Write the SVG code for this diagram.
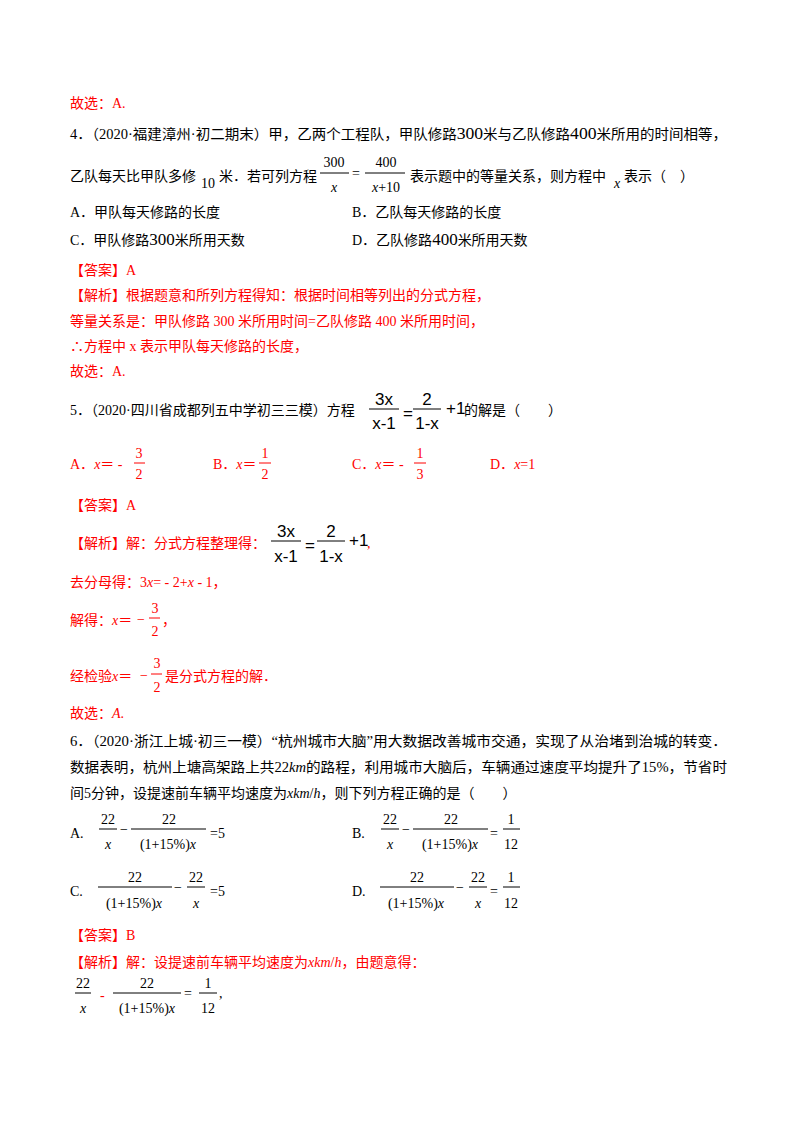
<svg xmlns="http://www.w3.org/2000/svg" width="800" height="1132" viewBox="0 0 800 1132">
<style>
text{font-family:"Liberation Serif","Noto Sans CJK SC",serif;font-size:14px;fill:#000}
.r{fill:#ff0000}
.i{font-style:italic}
.s{font-family:"Liberation Sans","Noto Sans CJK SC",sans-serif;font-size:17px}
.m{text-anchor:middle}
line{stroke:#000;stroke-width:1}
line.r{stroke:#ff0000}
</style>
<rect width="800" height="1132" fill="#fff"/>
<g id="q4">
<text class="r" x="70" y="108">故选：A.</text>
<text x="70" y="139" textLength="657" lengthAdjust="spacingAndGlyphs">4．（2020·福建漳州·初二期末）甲，乙两个工程队，甲队修路<tspan font-size="17">300</tspan>米与乙队修路<tspan font-size="17">400</tspan>米所用的时间相等，</text>
<text x="70" y="181">乙队每天比甲队多修</text><text x="201" y="188" font-size="16">10</text><text x="219" y="181">米．若可列方程</text>
<text class="m" x="334" y="167" font-size="16">300</text><line x1="320" y1="173" x2="349" y2="173"/><text class="m i" x="334" y="192" font-size="16">x</text>
<text x="352" y="178" font-size="16">=</text>
<text class="m" x="386" y="167" font-size="16">400</text><line x1="365" y1="173" x2="405" y2="173"/><text class="m" x="386" y="192" font-size="16"><tspan class="i">x</tspan>+10</text>
<text x="410" y="181">表示题中的等量关系，则方程中</text><text class="i" x="614" y="188" font-size="16">x</text><text x="624" y="181">表示（　）</text>
<text x="70" y="217">A．甲队每天修路的长度</text>
<text x="352" y="217">B．乙队每天修路的长度</text>
<text x="70" y="245">C．甲队修路<tspan font-size="17">300</tspan>米所用天数</text>
<text x="352" y="245">D．乙队修路<tspan font-size="17">400</tspan>米所用天数</text>
<text class="r" x="70" y="275">【答案】A</text>
<text class="r" x="70" y="300">【解析】根据题意和所列方程得知：根据时间相等列出的分式方程，</text>
<text class="r" x="70" y="326">等量关系是：甲队修路 300 米所用时间=乙队修路 400 米所用时间，</text>
<text class="r" x="70" y="351">∴方程中 x 表示甲队每天修路的长度，</text>
<text class="r" x="70" y="376">故选：A.</text>
</g>
<g id="q5">
<text x="70" y="415">5．（2020·四川省成都列五中学初三三模）方程</text>
<text class="m s" x="384" y="405">3x</text><line x1="369" y1="409" x2="399" y2="409"/><text class="m s" x="384" y="429">x-1</text>
<text class="s" x="403" y="419">=</text>
<text class="m s" x="427" y="405">2</text><line x1="413" y1="409" x2="441" y2="409"/><text class="m s" x="427" y="429">1-x</text>
<text class="s" x="446" y="414" font-size="15">+1</text><text x="464" y="415">的解是（　　）</text>
<text class="r" x="70" y="469">A．<tspan class="i">x</tspan>＝ -</text>
<text class="r m" x="139" y="458">3</text><line class="r" x1="134" y1="463" x2="145" y2="463"/><text class="r m" x="139" y="479">2</text>
<text class="r" x="213" y="469">B．<tspan class="i">x</tspan>＝</text>
<text class="r m" x="265" y="458">1</text><line class="r" x1="259" y1="463" x2="271" y2="463"/><text class="r m" x="265" y="479">2</text>
<text class="r" x="352" y="469">C．<tspan class="i">x</tspan>＝ -</text>
<text class="r m" x="420" y="458">1</text><line class="r" x1="414" y1="463" x2="426" y2="463"/><text class="r m" x="420" y="479">3</text>
<text class="r" x="490" y="469">D．<tspan class="i">x</tspan>=1</text>
<text class="r" x="70" y="510">【答案】A</text>
<text class="r" x="70" y="548">【解析】解：分式方程整理得：</text>
<text class="m s" x="286" y="537">3x</text><line x1="271" y1="541" x2="301" y2="541"/><text class="m s" x="286" y="562">x-1</text>
<text class="s" x="305" y="551">=</text>
<text class="m s" x="331" y="537">2</text><line x1="317" y1="541" x2="345" y2="541"/><text class="m s" x="331" y="562">1-x</text>
<text class="s" x="349" y="546" font-size="15">+1</text><text class="r" x="367" y="548">,</text>
<text class="r" x="70" y="587">去分母得：3<tspan class="i">x</tspan>= - 2+<tspan class="i">x</tspan> - 1，</text>
<text class="r" x="70" y="625">解得：<tspan class="i">x</tspan>＝</text>
<text class="r" x="137" y="624">−</text>
<text class="r m" x="155" y="613">3</text><line class="r" x1="149" y1="618" x2="160" y2="618"/><text class="r m" x="155" y="636">2</text>
<text class="r" x="162" y="625">，</text>
<text class="r" x="70" y="681">经检验<tspan class="i">x</tspan>＝</text>
<text class="r" x="140" y="680">−</text>
<text class="r m" x="157" y="668">3</text><line class="r" x1="151" y1="674" x2="162" y2="674"/><text class="r m" x="157" y="692">2</text>
<text class="r" x="165" y="681">是分式方程的解．</text>
<text class="r" x="70" y="718">故选：<tspan class="i">A</tspan>.</text>
</g>
<g id="q6">
<text x="70" y="746" textLength="657" lengthAdjust="spacingAndGlyphs">6．（2020·浙江上城·初三一模）“杭州城市大脑”用大数据改善城市交通，实现了从治堵到治城的转变．</text>
<text x="70" y="772" textLength="657" lengthAdjust="spacingAndGlyphs">数据表明，杭州上塘高架路上共22<tspan class="i">km</tspan>的路程，利用城市大脑后，车辆通过速度平均提升了15%，节省时</text>
<text x="70" y="798">间5分钟，设提速前车辆平均速度为<tspan class="i">xkm</tspan>/<tspan class="i">h</tspan>，则下列方程正确的是（　　）</text>
<text x="70" y="838">A.</text>
<text class="m" x="108" y="824" font-size="16">22</text><line x1="99" y1="829" x2="117" y2="829"/><text class="m i" x="108" y="849" font-size="16">x</text>
<text x="120" y="834" font-size="16">−</text>
<text class="m" x="169" y="824" font-size="16">22</text><line x1="131" y1="829" x2="206" y2="829"/><text class="m" x="168" y="849" font-size="16">(1+15%)<tspan class="i">x</tspan></text>
<text x="210" y="838" font-size="16">=5</text>
<text x="352" y="838">B.</text>
<text class="m" x="390" y="824" font-size="16">22</text><line x1="381" y1="829" x2="399" y2="829"/><text class="m i" x="390" y="849" font-size="16">x</text>
<text x="402" y="834" font-size="16">−</text>
<text class="m" x="451" y="824" font-size="16">22</text><line x1="413" y1="829" x2="488" y2="829"/><text class="m" x="450" y="849" font-size="16">(1+15%)<tspan class="i">x</tspan></text>
<text x="490" y="838" font-size="16">=</text>
<text class="m" x="511" y="824" font-size="16">1</text><line x1="503" y1="829" x2="520" y2="829"/><text class="m" x="511" y="849" font-size="16">12</text>
<text x="70" y="896">C.</text>
<text class="m" x="135" y="882" font-size="16">22</text><line x1="98" y1="887" x2="172" y2="887"/><text class="m" x="134" y="908" font-size="16">(1+15%)<tspan class="i">x</tspan></text>
<text x="174" y="892" font-size="16">−</text>
<text class="m" x="196" y="882" font-size="16">22</text><line x1="187" y1="887" x2="205" y2="887"/><text class="m i" x="196" y="908" font-size="16">x</text>
<text x="210" y="896" font-size="16">=5</text>
<text x="352" y="896">D.</text>
<text class="m" x="417" y="882" font-size="16">22</text><line x1="380" y1="887" x2="454" y2="887"/><text class="m" x="416" y="908" font-size="16">(1+15%)<tspan class="i">x</tspan></text>
<text x="456" y="892" font-size="16">−</text>
<text class="m" x="478" y="882" font-size="16">22</text><line x1="469" y1="887" x2="487" y2="887"/><text class="m i" x="478" y="908" font-size="16">x</text>
<text x="490" y="896" font-size="16">=</text>
<text class="m" x="511" y="882" font-size="16">1</text><line x1="503" y1="887" x2="520" y2="887"/><text class="m" x="511" y="908" font-size="16">12</text>
<text class="r" x="70" y="940">【答案】B</text>
<text class="r" x="70" y="967">【解析】解：设提速前车辆平均速度为<tspan class="i">xkm</tspan>/<tspan class="i">h</tspan>，由题意得：</text>
<text class="m" x="83" y="988" font-size="16">22</text><line x1="75" y1="993" x2="91" y2="993"/><text class="m i" x="83" y="1013" font-size="16">x</text>
<text class="r" x="100" y="1000">-</text>
<text class="m" x="147" y="988" font-size="16">22</text><line x1="113" y1="993" x2="181" y2="993"/><text class="m" x="147" y="1013" font-size="15">(1+15%)<tspan class="i">x</tspan></text>
<text x="184" y="998" font-size="16">=</text>
<text class="m" x="208" y="988" font-size="16">1</text><line x1="199" y1="993" x2="217" y2="993"/><text class="m" x="208" y="1013" font-size="16">12</text>
<text x="219" y="998">,</text>
</g>
</svg>
